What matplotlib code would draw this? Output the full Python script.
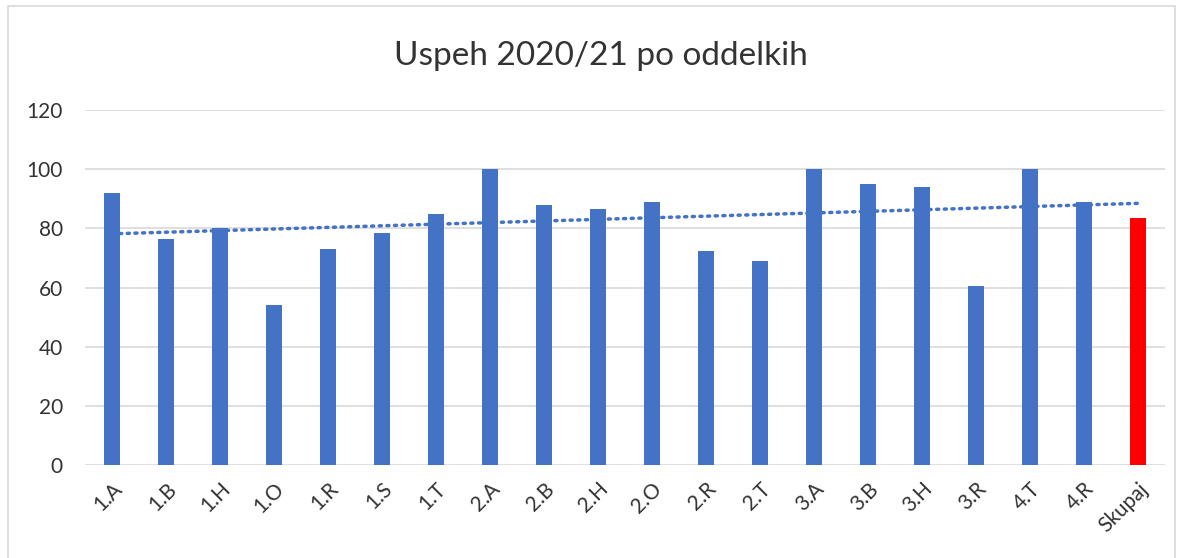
import matplotlib.pyplot as plt
import numpy as np

categories = ['1.A', '1.B', '1.H', '1.O', '1.R', '1.S', '1.T', '2.A', '2.B', '2.H',
              '2.O', '2.R', '2.T', '3.A', '3.B', '3.H', '3.R', '4.T', '4.R', 'Skupaj']
values = [92, 76.5, 80, 54, 73, 78.5, 85, 100, 88, 86.5,
          89, 72.5, 69, 100, 95, 94, 60.5, 100, 89, 83.5]

plt.rcParams['font.family'] = ['Lato', 'DejaVu Sans']

fig = plt.figure(figsize=(11.83, 5.58), dpi=100)
ax = fig.add_axes([85/1183, 93/558, 1080/1183, 355/558])

x = np.arange(len(categories))
colors = ['#4472c4'] * (len(categories) - 1) + ['#ff0000']
ax.bar(x, values, width=0.31, color=colors, zorder=3)

# linear trendline like excel
k, n = np.polyfit(x + 1, values, 1)
ax.plot(x, k * (x + 1) + n, color='#4472c4', linestyle=(0, (0.6, 1.6)), linewidth=2.5,
        dash_capstyle='round', zorder=2)

ax.set_ylim(0, 120)
ax.set_yticks(range(0, 121, 20))
ax.set_xlim(-0.5, len(categories) - 0.5)
ax.set_xticks(x)
ax.set_xticklabels(categories, rotation=45, ha='right', rotation_mode='anchor')
ax.tick_params(axis='both', length=0, labelsize=15, colors='#333333')
ax.tick_params(axis='x', pad=10)
ax.tick_params(axis='y', pad=16)
ax.grid(axis='y', color='#d9d9d9', linewidth=1.2, zorder=0)
for s in ax.spines.values():
    s.set_visible(False)

fig.text(0.508, 0.9, 'Uspeh 2020/21 po oddelkih', ha='center', va='center',
         fontsize=24, color='#333333')

border = plt.Rectangle((8/1183, -0.01), 1167/1183, 1.0, transform=fig.transFigure,
                       fill=False, edgecolor='#d9d9d9', linewidth=1.2)
fig.patches.append(border)

fig.savefig('out.png', dpi=100)
